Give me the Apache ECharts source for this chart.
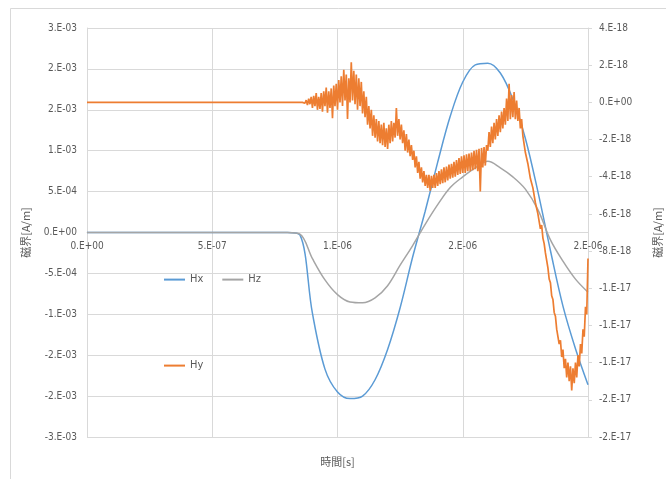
<!DOCTYPE html>
<html>
<head>
<meta charset="utf-8">
<script src="https://cdn.jsdelivr.net/npm/echarts@6/dist/echarts.min.js"></script>
<style>
  html, body { margin: 0; padding: 0; background: #fff; }
  #chart { width: 666px; height: 479px; }
</style>
</head>
<body>
<div id="chart"></div>
<script>
// 時間 [µs] for the smooth curves
const tWave = [0, 0.05, 0.1, 0.15, 0.2, 0.25, 0.3, 0.35, 0.4, 0.45, 0.5, 0.55, 0.6, 0.65, 0.7, 0.75, 0.8,
  0.85, 0.9, 0.95, 1.0, 1.05, 1.1, 1.15, 1.2, 1.25, 1.3, 1.35, 1.4, 1.45, 1.5, 1.55, 1.6, 1.65, 1.7, 1.75,
  1.8, 1.85, 1.9, 1.95, 2.0];
// Hx, Hz [x1e-3 A/m]
const hx = [0, 0, 0, 0, 0, 0, 0, 0, 0, 0, 0, 0, 0, 0, 0, 0, 0,
  -0.03, -0.99, -1.67, -1.95, -2.03, -2.0, -1.8, -1.43, -0.92, -0.3, 0.26, 0.86, 1.42, 1.84, 2.05, 2.07,
  1.95, 1.63, 1.15, 0.5, -0.22, -0.9, -1.42, -1.86];
const hz = [0, 0, 0, 0, 0, 0, 0, 0, 0, 0, 0, 0, 0, 0, 0, 0, 0,
  -0.02, -0.32, -0.58, -0.76, -0.85, -0.86, -0.8, -0.65, -0.4, -0.16, 0.1, 0.34, 0.55, 0.68, 0.79, 0.87,
  0.79, 0.68, 0.53, 0.28, -0.09, -0.35, -0.57, -0.73];

// 時間 [µs] for Hy
const tHy = [0,
  0.85, 0.855, 0.86, 0.865, 0.87, 0.875, 0.88, 0.885, 0.89, 0.895,
  0.9, 0.905, 0.91, 0.915, 0.92, 0.925, 0.93, 0.935, 0.94, 0.945,
  0.95, 0.955, 0.96, 0.965, 0.97, 0.975, 0.98, 0.985, 0.99, 0.995,
  1.0, 1.005, 1.01, 1.015, 1.02, 1.025, 1.03, 1.035, 1.04, 1.045,
  1.05, 1.055, 1.06, 1.065, 1.07, 1.075, 1.08, 1.085, 1.09, 1.095,
  1.1, 1.105, 1.11, 1.115, 1.12, 1.125, 1.13, 1.135, 1.14, 1.145,
  1.15, 1.155, 1.16, 1.165, 1.17, 1.175, 1.18, 1.185, 1.19, 1.195,
  1.2, 1.205, 1.21, 1.215, 1.22, 1.225, 1.23, 1.235, 1.24, 1.245,
  1.25, 1.255, 1.26, 1.265, 1.27, 1.275, 1.28, 1.285, 1.29, 1.295,
  1.3, 1.305, 1.31, 1.315, 1.32, 1.325, 1.33, 1.335, 1.34, 1.345,
  1.35, 1.355, 1.36, 1.365, 1.37, 1.375, 1.38, 1.385, 1.39, 1.395,
  1.4, 1.405, 1.41, 1.415, 1.42, 1.425, 1.43, 1.435, 1.44, 1.445,
  1.45, 1.455, 1.46, 1.465, 1.47, 1.475, 1.48, 1.485, 1.49, 1.495,
  1.5, 1.505, 1.51, 1.515, 1.52, 1.525, 1.53, 1.535, 1.54, 1.545,
  1.55, 1.555, 1.56, 1.565, 1.57, 1.575, 1.58, 1.585, 1.59, 1.595,
  1.6, 1.605, 1.61, 1.615, 1.62, 1.625, 1.63, 1.635, 1.64, 1.645,
  1.65, 1.655, 1.66, 1.665, 1.67, 1.675, 1.68, 1.685, 1.69, 1.695,
  1.7, 1.705, 1.71, 1.715, 1.72, 1.725, 1.73, 1.735, 1.74, 1.745,
  1.75, 1.755, 1.76, 1.765, 1.77, 1.775, 1.78, 1.785, 1.79, 1.795,
  1.8, 1.805, 1.81, 1.815, 1.82, 1.825, 1.83, 1.835, 1.84, 1.845,
  1.85, 1.855, 1.86, 1.865, 1.87, 1.875, 1.88, 1.885, 1.89, 1.895,
  1.9, 1.905, 1.91, 1.915, 1.92, 1.925, 1.93, 1.935, 1.94, 1.945,
  1.95, 1.955, 1.96, 1.965, 1.97, 1.975, 1.98, 1.985, 1.99, 1.995,
  2.0];
// Hy [x1e-18 A/m]
const hy = [0,
  0, 0, 0, 0.05, -0.05, 0.12, -0.15, 0.2, -0.1, 0.3,
  -0.3, 0.35, -0.2, 0.5, -0.4, 0.3, -0.35, 0.5, -0.5, 0.6,
  -0.2, 0.8, -0.55, 0.6, -0.3, 0.75, -0.85, 0.9, -0.2, 1.0,
  -0.4, 1.2, 0.0, 1.4, -0.2, 1.75, 0.1, 1.5, -0.9, 1.3,
  0.0, 2.15, 0.1, 1.7, -0.1, 1.5, -0.4, 1.3, -0.2, 1.1,
  -0.6, 0.6, -0.8, 0.3, -1.2, -0.2, -1.4, -0.4, -1.8, -0.7,
  -1.9, -0.9, -2.1, -1.0, -2.2, -1.2, -2.3, -1.1, -2.4, -1.4,
  -2.5, -1.2, -2.2, -1.0, -2.1, -1.1, -1.9, -0.3, -1.8, -0.9,
  -2.0, -1.2, -2.2, -1.5, -2.6, -1.7, -2.7, -2.0, -2.9, -2.3,
  -3.1, -2.6, -3.5, -2.9, -3.8, -3.2, -4.1, -3.5, -4.3, -3.7,
  -4.5, -3.9, -4.6, -3.9, -4.75, -3.95, -4.6, -3.9, -4.6, -3.8,
  -4.5, -3.7, -4.4, -3.6, -4.35, -3.5, -4.3, -3.45, -4.2, -3.35,
  -4.1, -3.3, -4.05, -3.2, -4.0, -3.1, -3.9, -3.0, -3.85, -2.9,
  -3.8, -2.85, -3.8, -2.8, -3.7, -2.75, -3.7, -2.7, -3.65, -2.6,
  -3.6, -2.55, -3.7, -2.5, -4.8, -2.45, -3.5, -2.4, -3.4, -2.3,
  -2.6, -1.6, -2.4, -1.3, -2.2, -1.1, -2.0, -0.9, -1.8, -0.7,
  -1.6, -0.5, -1.4, -0.3, -1.2, 0.2, -1.0, 1.0, -0.9, 0.4,
  -0.8, 0.55, -0.9, 0.1, -1.0, -0.3, -1.4, -0.9, -1.8, -1.9,
  -2.7, -2.6, -3.3, -3.4, -4.1, -4.0, -4.6, -4.7, -5.4, -5.3,
  -6.0, -6.1, -6.8, -6.6, -7.3, -7.6, -8.1, -8.5, -8.9, -9.5,
  -9.7, -10.4, -10.6, -11.3, -11.5, -12.2, -12.2, -13.0, -12.8, -13.7,
  -13.3, -14.3, -13.8, -14.8, -14.0, -15.0, -14.2, -15.5, -14.3, -15.1,
  -14.0, -14.8, -13.6, -14.2, -13.0, -13.5, -12.2, -12.6, -11.0, -11.4,
  -8.4];

// Excel style "0.E+00"
function sci(v, scale) {
  if (Math.abs(v) < 1e-9) return '0.E+00';
  const x = v * scale;
  let e = Math.floor(Math.log10(Math.abs(x)));
  let m = Math.round(Math.abs(x) / Math.pow(10, e) + 1e-9);
  if (m >= 10) { m = 1; e += 1; }
  const es = (e < 0 ? '-' : '+') + String(Math.abs(e)).padStart(2, '0');
  return (x < 0 ? '-' : '') + m + '.E' + es;
}

const gray = '#595959';
const gridColor = '#d9d9d9';
const numFont = "'Liberation Sans Narrow', 'DejaVu Sans Condensed', sans-serif";
const cjkFont = "'Noto Sans CJK JP', sans-serif";

const chart = echarts.init(document.getElementById('chart'));
chart.setOption({
  animation: false,
  backgroundColor: '#fff',
  graphic: [{
    type: 'rect', left: 8, top: 6, silent: true, z: -1,
    shape: { width: 700, height: 500 },
    style: { fill: 'none', stroke: gridColor, lineWidth: 1 }
  }],
  grid: { left: 87, right: 78, top: 28, bottom: 42, containLabel: false, outerBoundsMode: 'none' },
  legend: [
    {
      data: ['Hx', 'Hz'], left: 163, top: 274, padding: 0,
      itemWidth: 21, itemHeight: 14, itemGap: 18,
      itemStyle: { opacity: 0 },
      textStyle: { color: gray, fontSize: 11, fontFamily: numFont }
    },
    {
      data: ['Hy'], left: 163, top: 360, padding: 0,
      itemWidth: 21, itemHeight: 14,
      itemStyle: { opacity: 0 },
      textStyle: { color: gray, fontSize: 11, fontFamily: numFont }
    }
  ],
  xAxis: {
    type: 'value', min: 0, max: 2, interval: 0.5,
    // the axis crosses the left axis at 0 (middle of the plot)
    offset: -204.5,
    name: '時間[s]', nameLocation: 'middle', nameGap: 224,
    nameTextStyle: { color: gray, fontSize: 11, fontFamily: cjkFont },
    axisLine: { onZero: false, lineStyle: { color: gridColor } },
    axisTick: { show: false },
    axisLabel: {
      color: gray, fontSize: 10, fontFamily: numFont, margin: 9,
      showMinLabel: true, showMaxLabel: true,
      formatter: v => sci(v, 1e-6)
    },
    splitLine: { show: true, lineStyle: { color: gridColor } }
  },
  yAxis: [
    {
      type: 'value', position: 'left', min: -2.5, max: 2.5, interval: 0.5,
      name: '磁界[A/m]', nameLocation: 'middle', nameRotate: 90, nameGap: 56,
      nameTextStyle: { color: gray, fontSize: 11, fontFamily: cjkFont },
      axisLine: { show: true, lineStyle: { color: gridColor } },
      axisTick: { show: false },
      axisLabel: { color: gray, fontSize: 10, fontFamily: numFont, margin: 10, formatter: v => sci(v, 1e-3) },
      splitLine: { show: true, lineStyle: { color: gridColor } }
    },
    {
      type: 'value', position: 'right', min: -18, max: 4, interval: 2,
      name: '磁界[A/m]', nameLocation: 'middle', nameRotate: 90, nameGap: 64,
      nameTextStyle: { color: gray, fontSize: 11, fontFamily: cjkFont },
      axisLine: { show: true, lineStyle: { color: gridColor } },
      axisTick: { show: true, length: 4, lineStyle: { color: gridColor } },
      axisLabel: { color: gray, fontSize: 10, fontFamily: numFont, margin: 11, formatter: v => sci(v, 1e-18) },
      splitLine: { show: false }
    }
  ],
  series: [
    {
      name: 'Hx', type: 'line', yAxisIndex: 0, smooth: 0.35, symbol: 'none',
      data: tWave.map((t, i) => [t, hx[i]]),
      lineStyle: { color: '#5B9BD5', width: 1.5 }, itemStyle: { color: '#5B9BD5' }
    },
    {
      name: 'Hz', type: 'line', yAxisIndex: 0, smooth: 0.35, symbol: 'none',
      data: tWave.map((t, i) => [t, hz[i]]),
      lineStyle: { color: '#A5A5A5', width: 1.5 }, itemStyle: { color: '#A5A5A5' }
    },
    {
      name: 'Hy', type: 'line', yAxisIndex: 1, symbol: 'none',
      data: tHy.map((t, i) => [t, hy[i]]),
      lineStyle: { color: '#ED7D31', width: 1.7 }, itemStyle: { color: '#ED7D31' }
    }
  ]
});
</script>
</body>
</html>
